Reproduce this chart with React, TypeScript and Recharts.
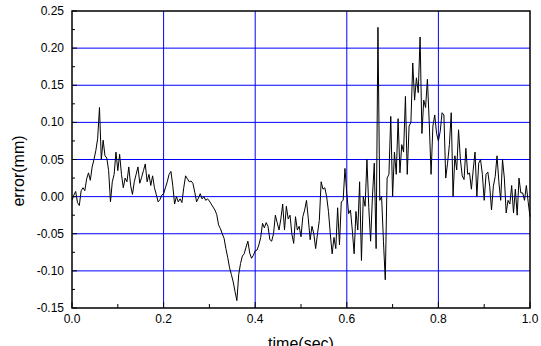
import { CartesianGrid, ComposedChart, Line, ReferenceArea, XAxis, YAxis } from "recharts";

// sampling step of the error trace (sec)
const DT = 0.004;

const errorMm = [
  -0.005, 0.002, 0.007, -0.008, -0.012, 0.008, 0.012, 0.008, 0.024, 0.032,
  0.022, 0.04, 0.05, 0.062, 0.078, 0.12, 0.05, 0.076, 0.055, 0.052,
  0.035, -0.007, 0.02, 0.03, 0.06, 0.035, 0.057, 0.03, 0.012, 0.025,
  0.02, 0.04, 0.015, 0.003, 0.02, 0.03, 0.04, 0.018, 0.026, 0.035,
  0.044, 0.02, 0.03, 0.015, 0.028, 0.012, 0.003, -0.007, -0.004, 0.002,
  0.004, 0.012, 0.02, 0.03, 0.034, 0.015, -0.01, 0.0, -0.007, -0.003,
  -0.008, 0.012, 0.028, 0.024, 0.02, 0.021, 0.018, 0.006, -0.007, -0.002,
  0.004, -0.003, 0.0, -0.005, -0.003, -0.006, -0.01, -0.014, -0.018, -0.024,
  -0.038, -0.043, -0.05, -0.056, -0.07, -0.082, -0.096, -0.105, -0.115, -0.128,
  -0.14, -0.105, -0.09, -0.08, -0.077, -0.068, -0.06, -0.076, -0.083, -0.079,
  -0.073, -0.072, -0.065, -0.055, -0.036, -0.042, -0.035, -0.04, -0.058, -0.06,
  -0.05, -0.025, -0.035, -0.045, -0.03, -0.01, -0.045, -0.013, -0.03, -0.025,
  -0.05, -0.063, -0.027, -0.045, -0.04, -0.054, -0.027, -0.018, -0.005, -0.03,
  -0.058, -0.04, -0.05, -0.07, -0.05, -0.032, 0.02, 0.01, 0.012, 0.0,
  -0.02, -0.05, -0.077, -0.055, -0.07, -0.015, -0.065, -0.007, -0.005, 0.038,
  0.004, -0.023, -0.018, -0.045, -0.077, -0.02, -0.045, 0.02, -0.086, 0.0,
  -0.013, 0.05, -0.015, -0.06, 0.0, 0.045, -0.07, 0.228, -0.005, 0.0,
  -0.06, -0.112, 0.025, 0.03, 0.108, 0.0, 0.06, 0.03, 0.105, 0.032,
  0.07, 0.06, 0.135, 0.03, 0.095, 0.1, 0.18, 0.13, 0.16, 0.14,
  0.215, 0.085, 0.13, 0.12, 0.158, 0.1, 0.03, 0.095, 0.11, 0.085,
  0.075, 0.088, 0.113, 0.11, 0.025, 0.045, 0.07, 0.113, 0.0, 0.055,
  0.036, 0.09, 0.05, 0.028, 0.023, 0.065, 0.03, 0.032, 0.01, 0.036,
  0.06, 0.0, 0.045, 0.05, 0.03, -0.005, 0.03, 0.033, 0.014, -0.018,
  0.014, 0.027, 0.055, 0.02, -0.005, 0.05, 0.025, -0.022, -0.005, -0.01,
  0.015, -0.022, 0.01, -0.025, 0.025, 0.005, 0.005, -0.005, 0.015, -0.007,
  -0.027,
];

const xTicks = [0, 0.1, 0.2, 0.3, 0.4, 0.5, 0.6, 0.7, 0.8, 0.9, 1.0];
const xLabels = [0, 0.2, 0.4, 0.6, 0.8, 1.0];
const yTicks = [
  -0.15, -0.125, -0.1, -0.075, -0.05, -0.025, 0, 0.025, 0.05, 0.075, 0.1, 0.125, 0.15, 0.175, 0.2, 0.225, 0.25,
];
const yLabels = [-0.15, -0.1, -0.05, 0, 0.05, 0.1, 0.15, 0.2, 0.25];
const xGrid = [0.2, 0.4, 0.6, 0.8];
const yGrid = [-0.1, -0.05, 0, 0.05, 0.1, 0.15, 0.2];
const xDomain = [0, 1];
const yDomain = [-0.15, 0.25];

const data = errorMm.map((err, i) => ({ time: +(i * DT).toFixed(4), err }));

// plot box (matches chart margins / axis sizes below)
const PL = 72;
const PR = 530;
const PT = 11;
const PB = 308;
const font = "Arial, 'Liberation Sans', sans-serif";

const isIn = (arr: number[], v: number) => arr.some((a) => Math.abs(a - v) < 1e-6);

const YTick = (props: any) => {
  const { y, payload } = props;
  const v = payload.value;
  const major = isIn(yLabels, v);
  return (
    <g>
      <line x1={PL} x2={PL + (major ? 5 : 3)} y1={y} y2={y} stroke="#000" strokeWidth={1} />
      {major && (
        <text x={64} y={y} dy={4} textAnchor="end" fontSize={12} fontFamily={font} fill="#000">
          {v.toFixed(2)}
        </text>
      )}
    </g>
  );
};

const XTick = (props: any) => {
  const { x, payload } = props;
  const v = payload.value;
  const major = isIn(xLabels, v);
  return (
    <g>
      <line x1={x} x2={x} y1={PB} y2={PB - (major ? 6 : 4)} stroke="#000" strokeWidth={1} />
      {major && (
        <text x={x} y={PB + 15} textAnchor="middle" fontSize={12} fontFamily={font} fill="#000">
          {v.toFixed(1)}
        </text>
      )}
    </g>
  );
};

export default function App() {
  return (
    <div style={{ position: "absolute", left: 0, top: 0, background: "#fff" }}>
      <ComposedChart width={541} height={346} data={data} margin={{ top: PT, right: 541 - PR, left: 0, bottom: 0 }}>
        <CartesianGrid
          stroke="#0000ff"
          strokeWidth={1}
          fill="none"
          horizontalValues={yGrid}
          verticalValues={xGrid}
        />
        <XAxis
          dataKey="time"
          type="number"
          domain={xDomain}
          ticks={xTicks}
          interval={0}
          height={346 - PB}
          tickLine={false}
          axisLine={false}
          tick={<XTick />}
          label={() => (
            <text x={301} y={349} textAnchor="middle" fontSize={16} fontFamily={font} fill="#000">
              time(sec)
            </text>
          )}
        />
        <YAxis
          type="number"
          domain={yDomain}
          ticks={yTicks}
          interval={0}
          width={PL}
          tickLine={false}
          axisLine={false}
          tick={<YTick />}
          label={() => (
            <text
              x={24}
              y={171}
              textAnchor="middle"
              fontSize={16}
              fontFamily={font}
              fill="#000"
              transform="rotate(-90, 24, 171)"
            >
              error(mm)
            </text>
          )}
        />
        <ReferenceArea
          x1={xDomain[0]}
          x2={xDomain[1]}
          y1={yDomain[0]}
          y2={yDomain[1]}
          fill="#fff"
          fillOpacity={0}
          stroke="#000"
          strokeWidth={1.5}
          ifOverflow="visible"
        />
        <Line
          dataKey="err"
          type="linear"
          stroke="#000"
          strokeWidth={1}
          fill="none"
          dot={false}
          activeDot={false}
          legendType="none"
          isAnimationActive={false}
        />
      </ComposedChart>
    </div>
  );
}
